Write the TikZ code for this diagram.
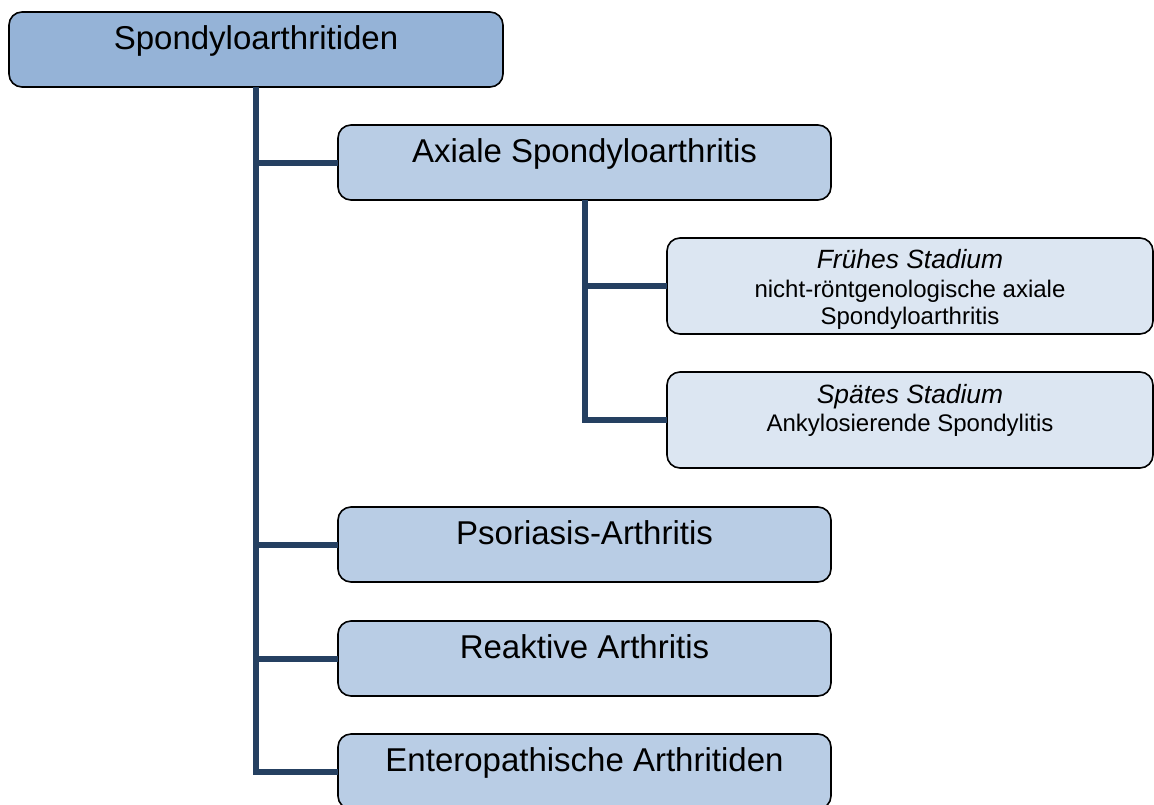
\documentclass[tikz,border=0pt]{standalone}
\usepackage{fontspec}
\setmainfont{Liberation Sans}
\begin{document}
\begin{tikzpicture}[x=1pt,y=-1pt,
  box/.style={draw=black, line width=1.6pt, rounded corners=13pt, inner sep=0pt, outer sep=0pt},
  rootbox/.style={box, fill=rootfill, minimum width=494pt, minimum height=75pt},
  childbox/.style={box, fill=childfill, minimum width=493pt, minimum height=75pt},
  grandbox/.style={box, fill=grandfill, minimum width=486pt, minimum height=96pt},
  bigtext/.style={anchor=base, inner sep=0pt, font=\fontsize{33}{40}\selectfont},
  headtext/.style={anchor=base, inner sep=0pt, font=\fontsize{26.4}{28}\selectfont\itshape},
  smalltext/.style={anchor=base, inner sep=0pt, font=\fontsize{24}{28}\selectfont},
  conn/.style={draw=linecol, line width=6pt}
]
\definecolor{rootfill}{HTML}{95B3D7}
\definecolor{childfill}{HTML}{B9CDE5}
\definecolor{grandfill}{HTML}{DCE6F2}
\definecolor{linecol}{HTML}{254061}
\useasboundingbox (0,0) rectangle (1154,804);
\clip (0,0) rectangle (1154,804);

\node[rootbox] (root) at (256,49.5) {};
\node[childbox] (axial) at (584.5,162.5) {};
\node[grandbox] (frueh) at (910,286) {};
\node[grandbox] (spaet) at (910,420) {};
\node[childbox] (psor) at (584.5,544.5) {};
\node[childbox] (reak) at (584.5,658.5) {};
\node[childbox] (entero) at (584.5,771.5) {};

\node[bigtext] (troot) at ([yshift=-37pt]root.north) {Spondyloarthritiden};
\node[bigtext] (taxial) at ([yshift=-37pt]axial.north) {Axiale Spondyloarthritis};
\node[headtext] (tfrueh1) at ([yshift=-30pt]frueh.north) {Frühes Stadium};
\node[smalltext] (tfrueh2) at ([yshift=-59pt]frueh.north) {nicht-röntgenologische axiale};
\node[smalltext] (tfrueh3) at ([yshift=-86pt]frueh.north) {Spondyloarthritis};
\node[headtext] (tspaet1) at ([yshift=-31pt]spaet.north) {Spätes Stadium};
\node[smalltext] (tspaet2) at ([yshift=-59pt]spaet.north) {Ankylosierende Spondylitis};
\node[bigtext] (tpsor) at ([yshift=-37pt]psor.north) {Psoriasis-Arthritis};
\node[bigtext] (treak) at ([yshift=-37pt]reak.north) {Reaktive Arthritis};
\node[bigtext] (tentero) at ([yshift=-37pt]entero.north) {Enteropathische Arthritiden};

\draw[conn] (root.south) |- (axial.west);
\draw[conn] (root.south) |- (psor.west);
\draw[conn] (root.south) |- (reak.west);
\draw[conn] (root.south) |- (entero.west);
\draw[conn] (axial.south) |- (frueh.west);
\draw[conn] (axial.south) |- (spaet.west);
\end{tikzpicture}
\end{document}
